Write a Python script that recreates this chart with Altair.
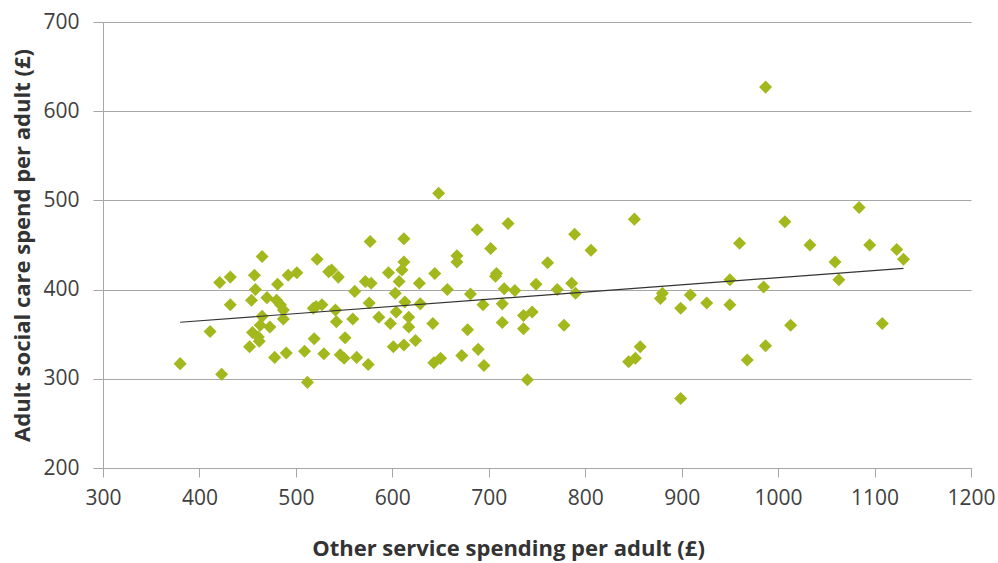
import altair as alt
import pandas as pd

other_spend = [
    380, 411, 421, 423, 432, 432, 452, 454, 457, 458, 461, 462, 465, 465, 470,
    473, 478, 481, 480, 484, 487, 487, 490, 492, 501, 509, 512, 518, 519, 521,
    522, 527, 529, 534, 537, 541, 544, 542, 546, 550, 551, 559, 561, 563, 572,
    575, 576, 577, 578, 586, 596, 598, 601, 603, 604, 607, 610, 612, 612, 613,
    612, 617, 617, 624, 628, 629, 642, 643, 644, 648, 650, 657, 667, 667, 672,
    678, 681, 688, 689, 694, 695, 702, 707, 708, 714, 714, 716, 720, 727, 736,
    736, 740, 745, 749, 761, 771, 778, 786, 789, 790, 806, 845, 852, 851, 857,
    878, 880, 899, 899, 909, 926, 950, 950, 960, 968, 985, 987, 987, 1007, 1013,
    1033, 1059, 1063, 1084, 1095, 1108, 1123, 1130, 455, 463,
]
adult_care = [
    317, 353, 408, 305, 414, 383, 336, 388, 416, 400, 347, 342, 437, 370, 391,
    358, 324, 406, 388, 383, 377, 367, 329, 416, 419, 331, 296, 379, 345, 381,
    434, 383, 328, 420, 422, 377, 414, 364, 327, 323, 346, 367, 398, 324, 409,
    316, 385, 454, 407, 369, 419, 362, 336, 396, 375, 409, 422, 431, 457, 386,
    338, 369, 358, 343, 407, 384, 362, 318, 418, 508, 323, 400, 438, 431, 326,
    355, 395, 467, 333, 383, 315, 446, 415, 418, 384, 363, 401, 474, 399, 371,
    356, 299, 375, 406, 430, 400, 360, 407, 462, 396, 444, 319, 323, 479, 336,
    390, 396, 379, 278, 394, 385, 383, 411, 452, 321, 403, 627, 337, 476, 360,
    450, 431, 411, 492, 450, 362, 445, 434, 352, 360,
]

df = pd.DataFrame({"other": other_spend, "care": adult_care})

FONT = "Open Sans"

x_enc = alt.X(
    "other:Q",
    scale=alt.Scale(domain=[300, 1200], nice=False),
    axis=alt.Axis(
        values=list(range(300, 1201, 100)),
        format="d",
        labelFlush=False,
        labelOverlap=False,
        title="Other service spending per adult (£)",
        grid=False,
        domainColor="#a6a6a6",
        tickColor="#a6a6a6",
        tickSize=9,
        labelPadding=10,
        labelFontSize=21,
        labelColor="#404040",
        labelFont=FONT,
        titleFont=FONT,
        titleFontSize=22,
        titleFontWeight="bold",
        titleColor="#333333",
        titleX=405,
        titleY=80,
        titleAlign="center",
        titleBaseline="middle",
    ),
)
y_enc = alt.Y(
    "care:Q",
    scale=alt.Scale(domain=[200, 700], nice=False),
    axis=alt.Axis(
        values=list(range(200, 701, 100)),
        format="d",
        labelFlush=False,
        labelOverlap=False,
        title="Adult social care spend per adult (£)",
        grid=True,
        gridColor="#a6a6a6",
        gridWidth=1,
        domainColor="#a6a6a6",
        tickColor="#a6a6a6",
        tickSize=10,
        labelPadding=14,
        labelFontSize=21,
        labelColor="#404040",
        labelFont=FONT,
        titleFont=FONT,
        titleFontSize=22,
        titleFontWeight="bold",
        titleColor="#333333",
        titleX=-81,
        titleY=223,
        titleAngle=-90,
        titleAlign="center",
        titleBaseline="middle",
    ),
)

points = alt.Chart(df).mark_point(
    shape="diamond", filled=True, size=170, color="#a3b81c", opacity=1
).encode(x=x_enc, y=y_enc)

trend = alt.Chart(df).transform_regression("other", "care").mark_line(
    color="#333333", strokeWidth=1.2
).encode(x="other:Q", y="care:Q")

chart = alt.layer(points, trend).properties(
    width=868,
    height=446,
    autosize=alt.AutoSizeParams(type="none"),
    padding={"left": 103, "top": 22, "right": 27, "bottom": 95},
).configure_view(stroke=None)

chart.save("out.html", embed_options={"renderer": "svg", "actions": False})
